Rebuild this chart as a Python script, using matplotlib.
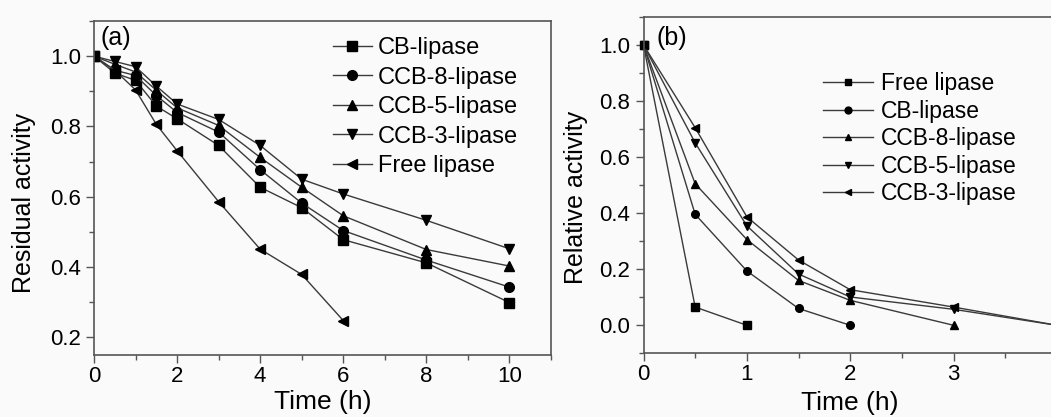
import numpy as np
import matplotlib
matplotlib.use("Agg")
import matplotlib.pyplot as plt
from matplotlib.ticker import MultipleLocator

plt.rcParams['font.family'] = ['Liberation Sans', 'DejaVu Sans']

# (a) residual activity vs time
time_a = [0, 0.5, 1, 1.5, 2, 3, 4, 5, 6, 8, 10]
cb_a = [1.0, 0.952, 0.931, 0.858, 0.822, 0.746, 0.627, 0.569, 0.478, 0.412, 0.299]
ccb8_a = [1.0, 0.960, 0.945, 0.888, 0.840, 0.784, 0.677, 0.582, 0.504, 0.420, 0.343]
ccb5_a = [1.0, 0.977, 0.955, 0.903, 0.853, 0.803, 0.712, 0.627, 0.546, 0.450, 0.403]
ccb3_a = [1.0, 0.985, 0.970, 0.915, 0.864, 0.820, 0.746, 0.650, 0.608, 0.533, 0.452]
time_free_a = [0, 0.5, 1, 1.5, 2, 3, 4, 5, 6]
free_a = [1.0, 0.960, 0.904, 0.806, 0.731, 0.586, 0.451, 0.379, 0.248]

# (b) relative activity vs time
free_t = [0, 0.5, 1]
free_b = [1.0, 0.065, 0.0]
cb_t = [0, 0.5, 1, 1.5, 2]
cb_b = [1.0, 0.396, 0.194, 0.060, 0.0]
ccb8_t = [0, 0.5, 1, 1.5, 2, 3]
ccb8_b = [1.0, 0.505, 0.306, 0.160, 0.089, 0.0]
ccb5_t = [0, 0.5, 1, 1.5, 2, 3, 4]
ccb5_b = [1.0, 0.651, 0.355, 0.183, 0.101, 0.057, 0.0]
ccb3_t = [0, 0.5, 1, 1.5, 2, 3, 4]
ccb3_b = [1.0, 0.705, 0.387, 0.233, 0.127, 0.065, 0.0]

W, H = 1051, 417
fig = plt.figure(figsize=(W/100, H/100), dpi=100)
fig.patch.set_facecolor('#fafafa')

line_col = '#3a3a3a'
spine_col = '#555555'

def style_axes(ax):
    ax.set_facecolor('#fafafa')
    for s in ax.spines.values():
        s.set_color(spine_col)
        s.set_linewidth(1.2)
    ax.tick_params(which='both', direction='out', color=spine_col, width=1.0,
                   labelsize=16, top=False, right=False)
    ax.tick_params(which='major', length=6)
    ax.tick_params(which='minor', length=3.5)
    ax.tick_params(axis='x', pad=2)

# panel (a)
ax1 = fig.add_axes([94/W, (H-355)/H, 457/W, 334/H])
style_axes(ax1)
series_a = [
    (time_a, cb_a, 's', 'CB-lipase'),
    (time_a, ccb8_a, 'o', 'CCB-8-lipase'),
    (time_a, ccb5_a, '^', 'CCB-5-lipase'),
    (time_a, ccb3_a, 'v', 'CCB-3-lipase'),
    (time_free_a, free_a, '<', 'Free lipase'),
]
for t, v, m, lab in series_a:
    ax1.plot(t, v, color=line_col, lw=1.0, marker=m, ms=7,
             mfc='black', mec='black', label=lab)
ax1.set_xlim(0, 11)
ax1.set_ylim(0.15, 1.1)
ax1.xaxis.set_major_locator(MultipleLocator(2))
ax1.xaxis.set_minor_locator(MultipleLocator(1))
ax1.set_yticks([0.2, 0.4, 0.6, 0.8, 1.0])
ax1.yaxis.set_minor_locator(MultipleLocator(0.1))
ax1.yaxis.set_major_formatter(matplotlib.ticker.FormatStrFormatter('%.1f'))
ax1.set_xlabel('Time (h)', fontsize=19)
ax1.set_ylabel('Residual activity', fontsize=18)
ax1.xaxis.set_label_coords(0.5, -0.105)
ax1.yaxis.set_label_coords(-0.128, 0.455)
ax1.text(101/W, (H-38)/H, '(a)', transform=fig.transFigure, fontsize=18,
         ha='left', va='center')
ax1.legend(loc='upper left', bbox_to_anchor=(333/W, (H-37)/H),
           bbox_transform=fig.transFigure, frameon=False, fontsize=17,
           handlelength=1.65, handletextpad=0.25, labelspacing=0.32,
           borderpad=0, borderaxespad=0, markerscale=1.0)

# panel (b)
ax2 = fig.add_axes([643.5/W, (H-353.3)/H, 434/W, 336.3/H])
style_axes(ax2)
series_b = [
    (free_t, free_b, 's', 'Free lipase'),
    (cb_t, cb_b, 'o', 'CB-lipase'),
    (ccb8_t, ccb8_b, '^', 'CCB-8-lipase'),
    (ccb5_t, ccb5_b, 'v', 'CCB-5-lipase'),
    (ccb3_t, ccb3_b, '<', 'CCB-3-lipase'),
]
for t, v, m, lab in series_b:
    ax2.plot(t, v, color=line_col, lw=1.0, marker=m, ms=5.5,
             mfc='black', mec='black', label=lab, clip_on=False)
ax2.set_xlim(0, 4.2)
ax2.set_ylim(-0.1, 1.1)
ax2.xaxis.set_major_locator(MultipleLocator(1))
ax2.xaxis.set_minor_locator(MultipleLocator(0.5))
ax2.set_yticks([0.0, 0.2, 0.4, 0.6, 0.8, 1.0])
ax2.yaxis.set_minor_locator(MultipleLocator(0.1))
ax2.yaxis.set_major_formatter(matplotlib.ticker.FormatStrFormatter('%.1f'))
ax2.set_xlabel('Time (h)', fontsize=19)
ax2.set_ylabel('Relative activity', fontsize=18)
ax2.xaxis.set_label_coords(0.476, -0.113)
ax2.yaxis.set_label_coords(-0.128, 0.462)
ax2.text(657/W, (H-38)/H, '(b)', transform=fig.transFigure, fontsize=18,
         ha='left', va='center')
ax2.legend(loc='upper left', bbox_to_anchor=(823/W, (H-72)/H),
           bbox_transform=fig.transFigure, frameon=False, fontsize=16.5,
           handlelength=2.2, handletextpad=0.33, labelspacing=0.2,
           borderpad=0, borderaxespad=0, markerscale=0.9)

fig.savefig('out.png', dpi=100, facecolor=fig.get_facecolor())
